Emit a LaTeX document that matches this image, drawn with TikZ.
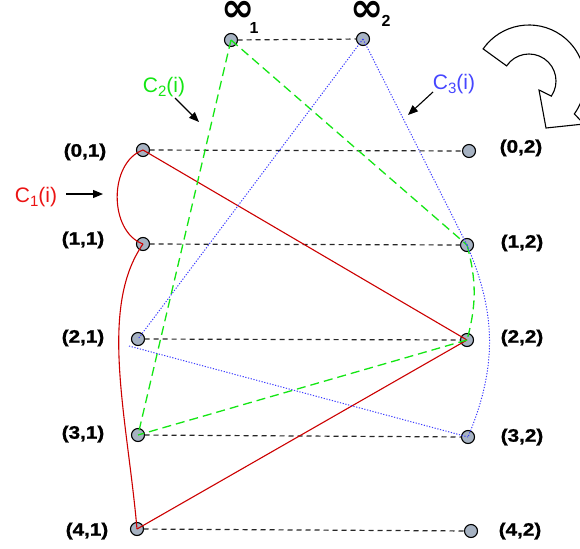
\documentclass[tikz,border=0pt]{standalone}
\usepackage{fontspec}
\setmainfont{Liberation Sans}
\newfontfamily\heavyfont{Liberation Sans}[FakeStretch=1.15,FakeBold=1.2]
\newfontfamily\symbfont{DejaVu Sans}
\usepackage{xcolor}
\usepackage{tikz}
\usetikzlibrary{positioning,arrows.meta,calc}

\definecolor{vtxfill}{RGB}{166,178,194}
\definecolor{cred}{RGB}{204,0,0}
\definecolor{credtxt}{RGB}{235,20,20}
\definecolor{cgreen}{RGB}{20,230,20}
\definecolor{cblue}{RGB}{60,60,255}
\definecolor{cbluetxt}{RGB}{70,70,255}

\newcommand{\cyc}[1]{C\raisebox{-4pt}{\fontsize{15}{15}\selectfont #1}(i)}

\begin{document}
\begin{tikzpicture}[x=1pt,y=1pt,
  every node/.style={inner sep=0pt,outer sep=0pt},
  vtx/.style ={circle,draw=black,line width=1.1pt,fill=vtxfill,minimum size=13pt},
  pairlbl/.style={font=\heavyfont\bfseries\fontsize{18}{18}\selectfont},
  inflbl/.style={font=\symbfont\bfseries\fontsize{40}{40}\selectfont},
  sublbl/.style={font=\bfseries\fontsize{16}{16}\selectfont},
  cyclbl/.style={font=\fontsize{21}{21}\selectfont},
  rung/.style ={dash pattern=on 5pt off 4pt,line width=1.2pt,black!85},
  cone/.style ={cred,line width=1.1pt},
  ctwo/.style ={cgreen,line width=1.3pt,dash pattern=on 9pt off 5pt},
  cthree/.style={cblue,line width=1pt,dash pattern=on 1.2pt off 1.6pt},
  ptr/.style  ={-{Triangle[length=10pt,width=8pt]},line width=1.1pt},
]
\useasboundingbox (0,0) rectangle (580,-548);

\node[vtx] at (231,-40)  (inf1) {};
\node[vtx] at (363,-39)  (inf2) {};

\node[vtx] at (143,-150) (v01) {};
\node[vtx] at (143,-244) (v11) {};
\node[vtx] at (138,-339) (v21) {};
\node[vtx] at (138,-435) (v31) {};
\node[vtx] at (137,-529) (v41) {};

\node[vtx] at (469,-151) (v02) {};
\node[vtx] at (467,-245) (v12) {};
\node[vtx] at (467,-340) (v22) {};
\node[vtx] at (468,-437) (v32) {};
\node[vtx] at (471,-531) (v42) {};

\node[inflbl] at (238,-11) (tinf1) {∞};
\node[sublbl] at (254,-28) (tsub1) {1};
\node[inflbl] at (367,-11) (tinf2) {∞};
\node[sublbl] at (386,-21) (tsub2) {2};

\node[pairlbl] at (85,-152)  (l01) {(0,1)};
\node[pairlbl] at (83,-240)  (l11) {(1,1)};
\node[pairlbl] at (83,-338)  (l21) {(2,1)};
\node[pairlbl] at (83,-434)  (l31) {(3,1)};
\node[pairlbl] at (87,-531)  (l41) {(4,1)};

\node[pairlbl] at (521,-148) (l02) {(0,2)};
\node[pairlbl] at (522,-243) (l12) {(1,2)};
\node[pairlbl] at (522,-338) (l22) {(2,2)};
\node[pairlbl] at (522,-437) (l32) {(3,2)};
\node[pairlbl] at (520,-531) (l42) {(4,2)};

\node[cyclbl,credtxt]  at (36,-197)  (lc1) {\cyc{1}};
\node[cyclbl,cgreen]   at (164,-87)  (lc2) {\cyc{2}};
\node[cyclbl,cbluetxt] at (454,-84)  (lc3) {\cyc{3}};

\coordinate (c1tip) at (103,-194);
\coordinate (c2tip) at (199,-122);
\coordinate (c3tip) at (408,-115);

\draw[ptr] (66,-194) coordinate (c1tail) -- (c1tip);
\draw[ptr] (175,-98) coordinate (c2tail) -- (c2tip);
\draw[ptr] (433,-92) coordinate (c3tail) -- (c3tip);

\draw[rung] (inf1) -- (inf2);
\draw[rung] (v01) -- (v02);
\draw[rung] (v11) -- (v12);
\draw[rung] (v21) -- (v22);
\draw[rung] (v31) -- (v32);
\draw[rung] (v41) -- (v42);

\draw[cone] (v01.center) to[out=200,in=160] (v11.center);
\draw[cone] (v11.center) to[out=235,in=95,out looseness=0.7,in looseness=1] (v41.center);
\draw[cone] (v01.center) -- (v22.center);
\draw[cone] (v41.center) -- (v22.center);

\draw[ctwo] (inf1.center) -- (v31.center);
\draw[ctwo] (inf1.center) -- (v12.center);
\draw[ctwo] (v12.center) to[bend left=15] (v22.center);
\draw[ctwo] (v22.center) -- (v31.center);

\draw[cthree] (inf2.center) -- (v21.center);
\draw[cthree] (inf2.center) -- (v12.center);
\draw[cthree] (v12.center) to[bend left=23] (v32.center);
\draw[cthree] (v21.center) ++(-9,-7) -- (v32.center);

\draw[line width=1.1pt,fill=white,line join=miter]
  (529,-81) ++(145:56pt) arc[start angle=145,end angle=-36,radius=56pt]
  -- (584,-124) -- (546,-128) -- (539,-90)
  -- ($(529,-81)+(-34:27pt)$) arc[start angle=-34,end angle=146,radius=27pt]
  -- cycle;
\end{tikzpicture}
\end{document}
